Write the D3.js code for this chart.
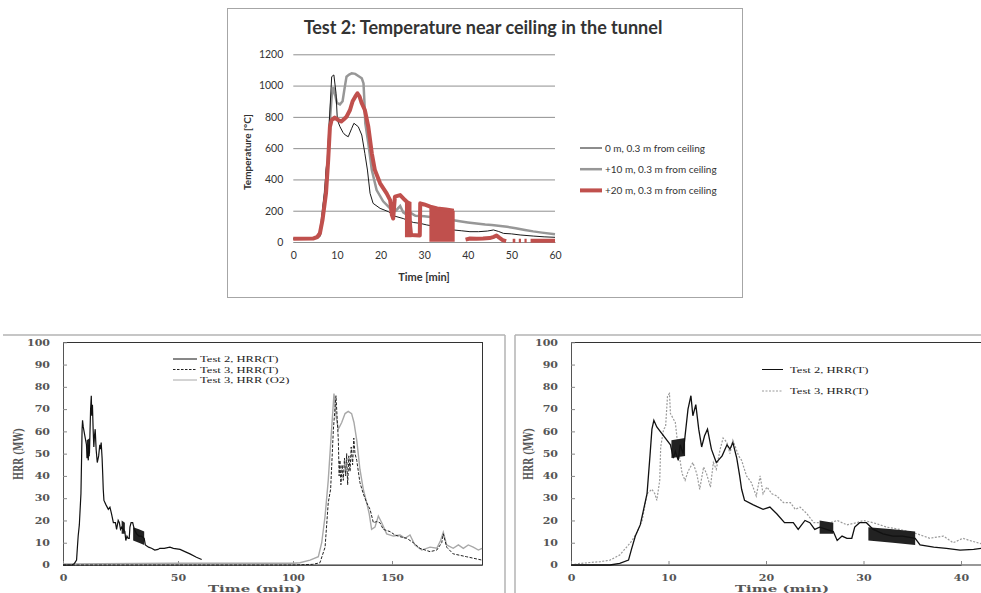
<!DOCTYPE html>
<html>
<head>
<meta charset="utf-8">
<script src="https://cdn.jsdelivr.net/npm/d3@7"></script>
<style>
  body { margin: 0; background: #fff; }
  svg { display: block; }
  .serif { font-family: "DejaVu Serif", serif; font-weight: bold; fill: #555; }
  .times { font-family: "Liberation Serif", "Times New Roman", serif; fill: #222; }
  .cal { font-family: Lato, "Open Sans", sans-serif; fill: #333; }
</style>
</head>
<body>
<svg width="981" height="593"></svg>
<script>
// ---- top chart: temperature near ceiling, Test 2 ----
const tempTicksY = [0, 200, 400, 600, 800, 1000, 1200];
const tempTicksX = [0, 10, 20, 30, 40, 50, 60];
const tempLegend = ["0 m, 0.3 m from ceiling", "+10 m, 0.3 m from ceiling", "+20 m, 0.3 m from ceiling"];

const temp0m = [[0,20],[4.5,21],[5.5,28],[6.1,34],[6.7,205],[7.2,330],[7.5,460],[7.65,500],[7.8,470],[8.0,631],[8.4,844],
  [8.8,1057],[9.3,1068],[9.8,951],[10.1,780],[10.7,737],[11.4,700],[11.9,684],[12.6,673],[13.4,727],[13.9,759],[14.9,737],
  [15.7,684],[16.4,567],[17,460],[17.6,311],[18.3,247],[19.9,215],[21.8,194],[23.3,165],[25.2,150],[27.5,125],[29.1,119],
  [30.6,109],[32.9,98],[34.8,88],[36.7,77],[38.5,72],[40.5,66],[42.5,66],[44.5,70],[45.9,77],[47,68],[48.2,55],[50,52],
  [52,45],[55,38],[57.5,33],[60,30]];

const temp10m = [[0,20],[4.5,22],[5.5,32],[6.1,45],[6.7,180],[7.2,300],[7.6,420],[8.0,560],[8.4,780],[8.8,930],[9.2,990],
  [9.6,940],[10.0,890],[10.7,880],[11.3,900],[11.8,990],[12.2,1057],[12.8,1070],[13.4,1078],[14.2,1075],[15.0,1060],
  [15.7,1047],[16.1,1014],[16.3,900],[16.5,760],[17.2,631],[18.0,460],[19.1,332],[20.6,260],[22.2,215],[23.5,200],
  [24.5,230],[25.2,190],[26,175],[27,185],[28,168],[30,165],[32,158],[34,150],[36,142],[37.8,134],[40,125],[42,118],
  [44,112],[45.5,109],[47,104],[49,97],[51,88],[53.1,77],[55,68],[57,60],[60,49]];

const temp20m = [[0,20],[4.5,22],[5.5,32],[6.1,56],[6.7,141],[7.5,311],[8.0,524],[8.4,737],[8.8,780],[9.5,795],[10.3,780],
  [11,770],[11.6,785],[12.2,801],[13,844],[13.6,900],[14.2,929],[14.7,951],[15.2,930],[15.7,887],[16.4,844],[17.2,737],
  [18,567],[18.7,460],[19.9,375],[21.4,311],[22.2,268],[22.6,173],[22.9,150],[23.1,220],[23.3,290],[24.5,300],[25.6,268],
  [26.4,247],[26.8,100],[27,45],[29.0,42],[29.1,247],[30,240],[31.4,226],[33,215],[35,208],[36.8,200],[36.9,null],
  [39.5,15],[40.5,22],[42,20],[43.5,22],[45,25],[46,33],[46.6,42],[47.2,28],[48,12],[48.8,6],[48.9,null],
  [50.3,8],[50.9,8],[51,null],[51.7,8],[52.2,8],[52.3,null],[53,8],[53.5,8],[53.6,null],[54.4,8],[60,8]];

// dense oscillation blocks of the +20 m trace: [time, low, high]
const temp20mBands = [
  [[25.6,30,272],[27.1,30,255]],
  [[31.2,2,228],[34,2,212],[37,2,200]]
];

// ---- bottom charts: heat release rate ----
const hrrTicksY = [0, 10, 20, 30, 40, 50, 60, 70, 80, 90, 100];
const hrrLeftTicksX = [0, 50, 100, 150];
const hrrRightTicksX = [0, 10, 20, 30, 40];
const hrrLeftLegend = ["Test 2, HRR(T)", "Test 3, HRR(T)", "Test 3, HRR (O2)"];
const hrrRightLegend = ["Test 2, HRR(T)", "Test 3, HRR(T)"];

const test2Hrr = [[0,0],[4,0],[5,0.7],[5.9,2.2],[6.2,7],[6.6,13],[7.1,18],[7.4,24],[7.8,32],[8.1,49],[8.3,61],[8.5,65],
  [8.8,62],[9.5,58],[10.2,54],[10.5,48],[10.7,51],[11,47],[11.2,54],[11.5,50],[11.7,58],[12,70],[12.3,76],[12.5,67],
  [12.8,72],[13.1,61],[13.4,53],[13.7,58],[14,61],[14.4,52],[14.9,46],[15.5,49],[16,54],[16.3,52],[16.6,55],[17,48],
  [17.3,40],[17.5,34],[17.8,29],[18.7,27],[19.7,25],[20.4,26],[21.1,23],[21.9,19],[22.8,19],[23.3,16],[24,20],[24.5,19],
  [25,16],[25.5,17],[26.9,15],[27.3,11],[27.8,13],[28.3,12],[28.8,12],[29.1,17],[29.6,19],[30.3,19],[31,16],[32,14],
  [33,13],[34,13],[35.3,12],[35.8,9],[37.2,8],[38.5,7.5],[39.9,6.7],[41.3,7],[42.1,7.5],[44,7.5],[46.5,8],[48,7.5],
  [50.9,7],[53,6],[55.2,5],[58,3.5],[60.3,2.5]];

// dense noisy stretches of the Test 2 trace: [time, low, high]
const test2Bands = [
  [[10.3,48,56],[11.7,49,57]],
  [[25.5,14,20],[26.9,14,19]],
  [[30.5,11,17],[33,10,16],[35.3,9,15]]
];

const test3Hrr = [[0,0],[0.9,0.7],[3,1.5],[4,2.2],[5,4.5],[6.1,10],[6.7,14],[7.3,20],[7.8,32],[8.3,34],[8.6,32],[8.8,29],
  [9.1,38],[9.2,53],[9.5,61],[9.7,62],[9.9,76],[10.1,77],[10.2,68],[10.7,64],[11,52],[11.4,41],[11.7,38],[12,42],[12.5,46],
  [12.9,41],[13.2,34],[13.6,44],[13.9,41],[14.3,35],[14.6,46],[14.9,43],[15.3,52],[15.6,57],[16,55],[16.3,50],[16.6,56],
  [17.2,49],[17.5,47],[18,40],[18.5,37],[19,31],[19.4,40],[19.7,32],[20.1,35],[20.6,32],[21.1,31],[21.8,28],[22.5,28],
  [23,25],[23.5,26],[24.2,23],[24.9,19],[25.5,19],[26.6,19],[27.3,20],[28.3,18],[29.3,19],[30,20],[31,19],[32.4,17],
  [33.7,16],[35.5,14],[36.8,12],[38.2,13],[39.2,10],[40.2,12],[40.9,11],[42.1,9.5],[43,9]];

// left panel, test 3 as shown on its own time axis
const test3HrrLeft = [[0,0],[100,0],[110,0.3],[113.6,1],[116.2,8],[117.8,28],[119,34],[120.4,61],[121.7,76],[122.9,56],
  [123.3,40],[123.7,47],[124.2,36],[124.8,45],[125.4,38],[126,48],[126.6,40],[127.1,50],[127.6,36],[128.2,49],[128.8,42],
  [129.4,53],[130.1,45],[130.7,57],[131.3,50],[132.2,47],[133.8,37],[135.5,32],[137.2,28],
  [138.9,25],[140.6,19],[142.3,19.5],[143.9,19],[145.6,16],[149,15],[151.3,13.5],[153.6,12.7],[156.5,12],[159.5,10],
  [162.4,7.5],[166.9,6],[169.9,6.7],[172.1,10],[172.8,14],[174.3,8],[177.2,5],[183.2,3.7],[190,2.2]];

const test3O2Left = [[0,0.5],[50,0.8],[100,0.8],[103.5,1],[108.6,2.2],[112.8,3.7],[114.5,10],[116.2,22],[117.8,38],
  [119.5,61],[120.7,77],[121.7,67],[122.9,61],[124.6,64],[126.3,68],[127.9,69],[129.6,68],[130.8,64],[132.2,56],[133.8,43],
  [135.5,34],[137.2,28],[138.5,23],[139.7,16],[141.4,17],[143.1,22],[144.8,19],[147.3,14],[150.6,13],[153.6,13.5],
  [155.8,12],[158,13.5],[160.2,9],[163.2,6.7],[166.9,8],[169.9,7.5],[171.6,11],[172.8,14.7],[174.3,9],[177.2,7.5],
  [179.5,9],[181.7,7.5],[183.9,9],[186.1,8],[188.4,6.7],[190,7.5]];

const svg = d3.select("svg");
svg.append("rect").attr("width", 981).attr("height", 593).attr("fill", "#fff");

function lineGen(x, y) {
  return d3.line().defined(d => d[1] !== null).x(d => x(d[0])).y(d => y(d[1]));
}
function areaGen(x, y) {
  return d3.area().x(d => x(d[0])).y0(d => y(d[1])).y1(d => y(d[2]));
}
// text squeezed/stretched horizontally like the scanned figure
function wideText(g, x, y, txt, sx, cls, size, anchor) {
  return g.append("text")
    .attr("class", cls)
    .attr("transform", `translate(${x},${y}) scale(${sx},1)`)
    .attr("font-size", size)
    .attr("text-anchor", anchor || "start")
    .text(txt);
}

// ================= TOP CHART =================
const gTop = svg.append("g");
gTop.append("rect")
  .attr("x", 227.5).attr("y", 8.5).attr("width", 515).attr("height", 289)
  .attr("fill", "none").attr("stroke", "#a6a6a6");

const xT = d3.scaleLinear().domain([0, 60]).range([293.3, 555]);
const yT = d3.scaleLinear().domain([0, 1200]).range([242, 54.3]);

gTop.append("g")
  .attr("transform", "translate(293.3,0)")
  .call(d3.axisLeft(yT).tickValues(tempTicksY).tickSize(-(555 - 293.3)).tickFormat(""))
  .call(g => g.select(".domain").remove())
  .call(g => g.selectAll("line").attr("stroke", "#8f8f8f"));

gTop.append("g")
  .attr("transform", "translate(293.3,0)")
  .call(d3.axisLeft(yT).tickValues(tempTicksY).tickFormat(d3.format("d")).tickSize(0).tickPadding(10))
  .call(g => g.select(".domain").remove())
  .call(g => g.selectAll("text").attr("class", "cal").attr("font-size", 10.5).attr("fill", "#333"));

gTop.append("g")
  .attr("transform", "translate(0,242)")
  .call(d3.axisBottom(xT).tickValues(tempTicksX).tickSize(0).tickPadding(10))
  .call(g => g.select(".domain").attr("stroke", "#8f8f8f"))
  .call(g => g.selectAll("text").attr("class", "cal").attr("font-size", 10.5).attr("fill", "#333"));

gTop.append("text").attr("class", "cal")
  .attr("x", 483).attr("y", 34).attr("text-anchor", "middle")
  .attr("font-size", 18).attr("font-weight", "bold").attr("fill", "#222")
  .text("Test 2: Temperature near ceiling in the tunnel");

gTop.append("text").attr("class", "cal")
  .attr("x", 424).attr("y", 281).attr("text-anchor", "middle")
  .attr("font-size", 11).attr("font-weight", "bold").attr("fill", "#222")
  .text("Time [min]");

gTop.append("text").attr("class", "cal")
  .attr("transform", "translate(251,152) rotate(-90)")
  .attr("text-anchor", "middle")
  .attr("font-size", 10).attr("font-weight", "bold").attr("fill", "#222")
  .text("Temperature [°C]");

const tLine = lineGen(xT, yT);
const tArea = areaGen(xT, yT);
const tempSeries = [
  { data: temp0m, color: "#1a1a1a", width: 1 },
  { data: temp10m, color: "#979797", width: 2.5 },
  { data: temp20m, color: "#c0504d", width: 4 }
];
gTop.append("path").datum(temp10m)
  .attr("d", tLine).attr("fill", "none").attr("stroke", "#979797").attr("stroke-width", 2.5);
gTop.append("path").datum(temp0m)
  .attr("d", tLine).attr("fill", "none").attr("stroke", "#1a1a1a").attr("stroke-width", 1);
gTop.selectAll(".band20").data(temp20mBands).enter().append("path")
  .attr("d", tArea).attr("fill", "#c0504d");
gTop.append("path").datum(temp20m)
  .attr("d", tLine).attr("fill", "none").attr("stroke", "#c0504d").attr("stroke-width", 4)
  .attr("stroke-linejoin", "round");

tempSeries.forEach((s, i) => {
  const yy = 148 + i * 21.2;
  gTop.append("line").attr("x1", 580).attr("x2", 602).attr("y1", yy).attr("y2", yy)
    .attr("stroke", s.color).attr("stroke-width", s.width);
  gTop.append("text").attr("class", "cal").attr("x", 605).attr("y", yy + 3.5)
    .attr("font-size", 10).attr("fill", "#333").text(tempLegend[i]);
});

// ================= BOTTOM FRAMES =================
const frames = svg.append("g").attr("stroke", "#b3b3b3").attr("stroke-width", 1.5);
frames.append("line").attr("x1", 3).attr("x2", 505).attr("y1", 335).attr("y2", 335);
frames.append("line").attr("x1", 505).attr("x2", 505).attr("y1", 335).attr("y2", 593);
frames.append("line").attr("x1", 515).attr("x2", 515).attr("y1", 335).attr("y2", 593);
frames.append("line").attr("x1", 515).attr("x2", 981).attr("y1", 335).attr("y2", 335);

const yB = d3.scaleLinear().domain([0, 100]).range([565, 342.3]);

function hrrPanel(x, left, right, ticksX, titleX, yLabelX) {
  const g = svg.append("g");
  g.append("rect")
    .attr("x", left + 0.5).attr("y", 342.5).attr("width", right - left).attr("height", 565 - 342.5)
    .attr("fill", "none").attr("stroke", "#333");

  g.append("g")
    .attr("transform", `translate(${left},0)`)
    .call(d3.axisLeft(yB).tickValues(hrrTicksY).tickSizeInner(-4).tickSizeOuter(0).tickPadding(0))
    .call(a => a.select(".domain").attr("stroke", "#555"))
    .call(a => a.selectAll("line").attr("stroke", "#888"))
    .call(a => a.selectAll("text")
      .attr("class", "serif").attr("font-size", 8.5).attr("x", 0)
      .attr("transform", "translate(-13,0) scale(1.3,1)"));

  g.append("g")
    .attr("transform", "translate(0,565)")
    .call(d3.axisBottom(x).tickValues(ticksX).tickSizeInner(-4).tickSizeOuter(0).tickPadding(0))
    .call(a => a.select(".domain").attr("stroke", "#555"))
    .call(a => a.selectAll("line").attr("stroke", "#888"))
    .call(a => a.selectAll("text")
      .attr("class", "serif").attr("font-size", 8.5).attr("y", 0).attr("dy", "0.71em")
      .attr("transform", "translate(0,10) scale(1.3,1)"));

  wideText(g, titleX, 592, "Time (min)", 1.5, "serif", 10, "middle").attr("fill", "#222");
  g.append("text").attr("class", "serif")
    .attr("transform", `translate(${yLabelX},454) scale(1.5,1) rotate(-90)`)
    .attr("text-anchor", "middle").attr("font-size", 8.5).attr("fill", "#222")
    .text("HRR (MW)");
  return g;
}

// ---- left panel ----
const xL = d3.scaleLinear().domain([0, 100, 150, 190]).range([63, 293, 392, 482]);
const gL = hrrPanel(xL, 63, 482, hrrLeftTicksX, 255, 23);
const lL = lineGen(xL, yB);
const aL = areaGen(xL, yB);

gL.append("path").datum(test3O2Left).attr("d", lL)
  .attr("fill", "none").attr("stroke", "#a8a8a8").attr("stroke-width", 1.4);
gL.append("path").datum(test3HrrLeft).attr("d", lL)
  .attr("fill", "none").attr("stroke", "#222").attr("stroke-width", 1).attr("stroke-dasharray", "3,1.5");
gL.selectAll(".b2").data(test2Bands).enter().append("path").attr("d", aL).attr("fill", "#222");
gL.append("path").datum(test2Hrr).attr("d", lL)
  .attr("fill", "none").attr("stroke", "#111").attr("stroke-width", 1.2);

const legL = [
  { color: "#111", dash: null },
  { color: "#222", dash: "2.5,1.5" },
  { color: "#a8a8a8", dash: null }
];
legL.forEach((s, i) => {
  const yy = 359 + i * 10.5;
  gL.append("line").attr("x1", 173).attr("x2", 197).attr("y1", yy).attr("y2", yy)
    .attr("stroke", s.color).attr("stroke-width", 1).attr("stroke-dasharray", s.dash);
  wideText(gL, 200, yy + 3, hrrLeftLegend[i], 1.4, "times", 9);
});

// ---- right panel ----
const xR = d3.scaleLinear().domain([0, 40]).range([571, 961]);
const gR = hrrPanel(xR, 571, 1000, hrrRightTicksX, 782, 533);
const lR = lineGen(xR, yB);
const aR = areaGen(xR, yB);

gR.append("path").datum(test3Hrr).attr("d", lR)
  .attr("fill", "none").attr("stroke", "#9a9a9a").attr("stroke-width", 1.2).attr("stroke-dasharray", "2,1.5");
gR.selectAll(".b2").data(test2Bands).enter().append("path").attr("d", aR).attr("fill", "#222");
gR.append("path").datum(test2Hrr).attr("d", lR)
  .attr("fill", "none").attr("stroke", "#111").attr("stroke-width", 1.3);

const legR = [
  { color: "#111", dash: null },
  { color: "#9a9a9a", dash: "2,1.5" }
];
legR.forEach((s, i) => {
  const yy = 369.5 + i * 21.5;
  gR.append("line").attr("x1", 762).attr("x2", 783).attr("y1", yy).attr("y2", yy)
    .attr("stroke", s.color).attr("stroke-width", 1).attr("stroke-dasharray", s.dash);
  wideText(gR, 790, yy + 3, hrrRightLegend[i], 1.4, "times", 9);
});
</script>
</body>
</html>
